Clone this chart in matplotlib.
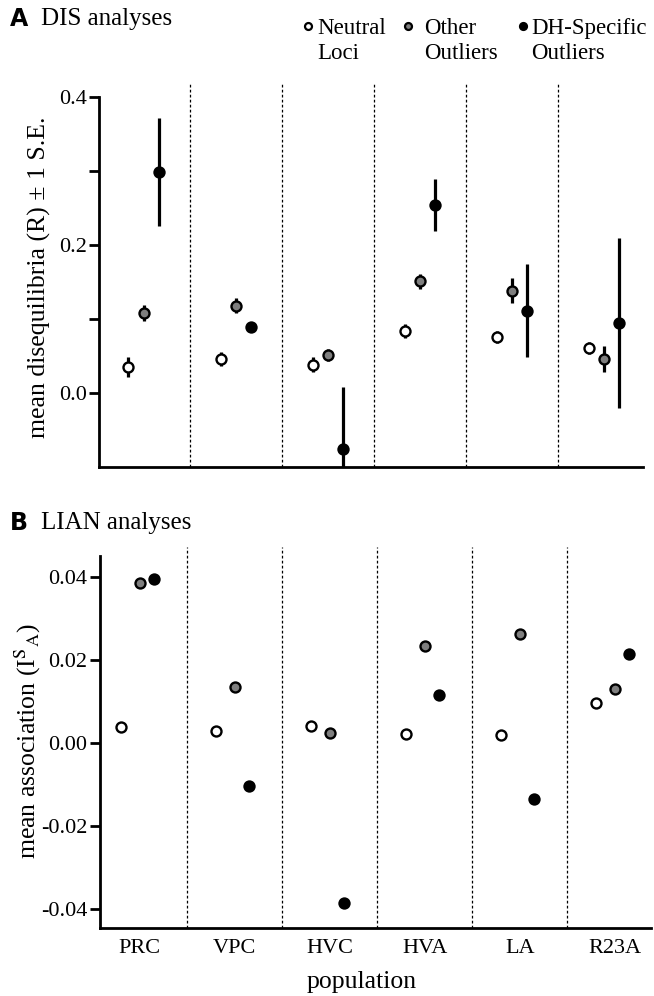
import matplotlib
matplotlib.use("Agg")
import matplotlib.pyplot as plt
from matplotlib.lines import Line2D
import numpy as np

populations = ["PRC", "VPC", "HVC", "HVA", "LA", "R23A"]
series = ["Neutral\nLoci", "Other\nOutliers", "DH-Specific\nOutliers"]

# Panel A: DIS analyses, mean disequilibria (R) and S.E.
dis_neutral = [0.035, 0.046, 0.038, 0.084, 0.076, 0.061]
dis_neutral_se = [0.013, 0.010, 0.010, 0.009, 0.008, 0.008]
dis_other = [0.108, 0.118, 0.051, 0.151, 0.138, 0.046]
dis_other_se = [0.011, 0.010, 0.008, 0.010, 0.017, 0.017]
dis_dh = [0.299, 0.089, -0.076, 0.254, 0.111, 0.095]
dis_dh_se = [0.073, 0.004, 0.084, 0.035, 0.063, 0.115]

# Panel B: LIAN analyses, mean association
lian_neutral = [0.0039, 0.0029, 0.0041, 0.0022, 0.0019, 0.0096]
lian_other = [0.0386, 0.0135, 0.0024, 0.0234, 0.0263, 0.0130]
lian_dh = [0.0395, -0.0104, -0.0386, 0.0116, -0.0135, 0.0214]

plt.rcParams['font.family'] = ['Liberation Serif', 'DejaVu Serif']
plt.rcParams['mathtext.fontset'] = 'stix'

W, H = 654, 996
fig = plt.figure(figsize=(W / 100, H / 100), dpi=100)

def px_axes(l, t, r, b):
    return fig.add_axes([l / W, 1 - b / H, (r - l) / W, (b - t) / H])

faces = ['white', '#7f7f7f', 'black']
ms = 7.2
tick_fs = 16
label_fs = 18.5

def style(ax, ybounds):
    for s in ['top', 'right']:
        ax.spines[s].set_visible(False)
    ax.spines['left'].set_linewidth(2)
    ax.spines['bottom'].set_linewidth(2)
    ax.spines['left'].set_bounds(*ybounds)
    ax.tick_params(axis='y', which='both', direction='out', width=2, labelsize=tick_fs, pad=2)
    ax.tick_params(axis='y', which='major', length=7)
    ax.tick_params(axis='y', which='minor', length=7)
    ax.tick_params(axis='x', length=0, labelsize=tick_fs, pad=8)
    for k in range(len(populations) - 1):
        ax.axvline(k + 0.5, color='black', lw=0.9, ls=(0, (2.2, 1.8)), zorder=0)

x = np.arange(len(populations))

# ---- Panel A ----
axA = px_axes(99, 84, 643, 467)
offA = [-0.17, 0.0, 0.16]
valsA = [dis_neutral, dis_other, dis_dh]
seA = [dis_neutral_se, dis_other_se, dis_dh_se]
for i in range(3):
    axA.errorbar(x + offA[i], valsA[i], yerr=seA[i], fmt='o', ms=ms,
                 mfc=faces[i], mec='black', mew=1.7, ecolor='black',
                 elinewidth=2.3, capsize=0, zorder=3)
axA.set_xlim(-0.49, 5.42)
axA.set_ylim(-0.1, 0.4176)
axA.set_yticks([0.0, 0.2, 0.4])
axA.set_yticks([0.1, 0.3], minor=True)
axA.set_yticklabels(['0.0', '0.2', '0.4'])
axA.set_xticks(x)
axA.set_xticklabels([])
style(axA, (-0.1, 0.4))
axA.set_ylabel('mean disequilibria (R) ± 1 S.E.', fontsize=label_fs)
axA.yaxis.set_label_coords((51 - 99) / 544, 0.496)

# ---- Panel B ----
axB = px_axes(100, 547, 651, 928)
offB = [-0.2, 0.0, 0.15]
valsB = [lian_neutral, lian_other, lian_dh]
for i in range(3):
    axB.plot(x + offB[i], valsB[i], 'o', ms=ms, mfc=faces[i], mec='black',
             mew=1.7, ls='none', zorder=3)
axB.set_xlim(-0.42, 5.38)
axB.set_ylim(-0.0446, 0.0472)
axB.set_yticks([-0.04, -0.02, 0.0, 0.02, 0.04])
axB.set_yticklabels(['-0.04', '-0.02', '0.00', '0.02', '0.04'])
axB.set_xticks(x)
axB.set_xticklabels(populations)
style(axB, (-0.0446, 0.045))
axB.set_ylabel(r'mean association (I$^{\mathrm{S}}$$_{\mathrm{A}}$)', fontsize=label_fs)
axB.yaxis.set_label_coords((43 - 100) / 551, 0.49)
axB.set_xlabel('population', fontsize=label_fs)
axB.xaxis.set_label_coords((362 - 100) / 551, (928 - 971) / 381)

# ---- Panel titles ----
fig.text(10 / W, 1 - 19 / H, 'A', fontsize=17, fontweight='bold', family='DejaVu Sans', va='center')
fig.text(41 / W, 1 - 19 / H, 'DIS analyses', fontsize=18, va='center')
fig.text(10 / W, 1 - 523 / H, 'B', fontsize=17, fontweight='bold', family='DejaVu Sans', va='center')
fig.text(41 / W, 1 - 523 / H, 'LIAN analyses', fontsize=18, va='center')

# ---- Legend ----
leg_marker_x = [308, 408, 523]
leg_text_x = [317, 424, 531]
for i in range(3):
    fig.add_artist(Line2D([leg_marker_x[i] / W], [1 - 26 / H], marker='o', ms=5,
                          mfc=faces[i], mec='black', mew=1.6, ls='none',
                          transform=fig.transFigure))
    fig.text(leg_text_x[i] / W, 1 - 41 / H, series[i], fontsize=16.5,
             va='center', ha='left', linespacing=1.3)

fig.savefig('out.png', dpi=100)
